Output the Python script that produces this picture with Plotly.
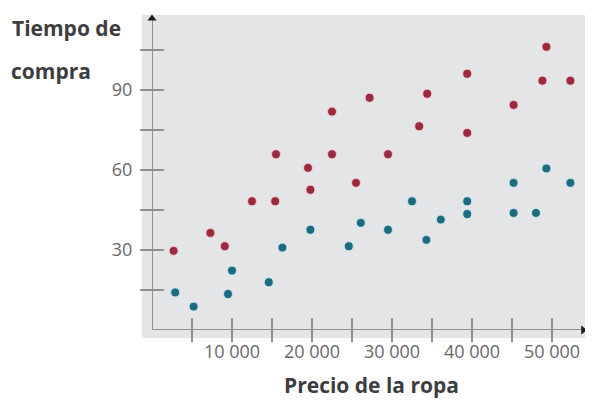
import plotly.graph_objects as go

# ---------------- data ----------------
red_x = [2700, 7300, 9100, 12500, 15400, 15500, 19500, 19800, 22500, 22500, 25500,
         27200, 29500, 33400, 34400, 39400, 39400, 45200, 48800, 49300, 52300]
red_y = [29.7, 36.4, 31.4, 48.3, 48.3, 65.9, 60.8, 52.6, 81.9, 65.9, 55.2,
         87.1, 65.9, 76.4, 88.6, 96.1, 73.9, 84.4, 93.5, 106.2, 93.5]

teal_x = [2900, 5200, 9500, 10000, 14600, 16300, 19800, 24600, 26100, 29500, 32500,
          34300, 36100, 39400, 39400, 45200, 45200, 48000, 49300, 52300]
teal_y = [14.1, 8.8, 13.5, 22.3, 17.9, 30.9, 37.6, 31.4, 40.2, 37.6, 48.3,
          33.8, 41.4, 48.3, 43.5, 55.2, 43.9, 43.9, 60.6, 55.2]

x_tick_vals = [5000, 10000, 15000, 20000, 25000, 30000, 35000, 40000, 45000, 50000]
x_label_vals = [10000, 20000, 30000, 40000, 50000]
x_labels = ["10 000", "20 000", "30 000", "40 000", "50 000"]
y_tick_vals = [15, 30, 45, 60, 75, 90, 105]
y_label_vals = [30, 60, 90]
y_labels = ["30", "60", "90"]

y_title_lines = ["Tiempo de", "compra"]
x_title = "Precio de la ropa"

x_end = 53900   # arrow tip of horizontal axis
y_end = 116.8   # arrow tip of vertical axis

# ---------------- geometry ----------------
OFF = 8                      # default page margin around the plot div
W, H = 593 - OFF, 400 - OFF
ML, MR, MT, MB = 152 - OFF, 0, 15 - OFF, 400 - 330
PW = W - ML - MR
PH = H - MT - MB


def px(xp):
    # window pixel x -> paper x
    return (xp - OFF - ML) / PW


def py(yp):
    # window pixel y -> paper y
    return (H - MB - (yp - OFF)) / PH


BG = "#e4e5e7"
AX = "#8e8f91"
RED = "#9a2a40"
TEAL = "#1f6b7e"
TXT = "#3d3d40"
TICKTXT = "#68686a"

fig = go.Figure()

# tick marks crossing the axes
fig.add_trace(go.Scatter(
    x=x_tick_vals, y=[0] * len(x_tick_vals), mode="markers",
    marker=dict(symbol="line-ns-open", size=17, color=AX, line=dict(color=AX, width=2)),
    cliponaxis=False, hoverinfo="skip", showlegend=False))
fig.add_trace(go.Scatter(
    x=[0] * len(y_tick_vals), y=y_tick_vals, mode="markers",
    marker=dict(symbol="line-ew-open", size=17, color=AX, line=dict(color=AX, width=2)),
    cliponaxis=False, hoverinfo="skip", showlegend=False))

# arrow heads
fig.add_trace(go.Scatter(
    x=[x_end], y=[0], mode="markers",
    marker=dict(symbol="triangle-right", size=8, color="#1e1e1e"),
    cliponaxis=False, hoverinfo="skip", showlegend=False))
fig.add_trace(go.Scatter(
    x=[0], y=[y_end], mode="markers",
    marker=dict(symbol="triangle-up", size=8, color="#1e1e1e"),
    cliponaxis=False, hoverinfo="skip", showlegend=False))

# data series
fig.add_trace(go.Scatter(
    x=red_x, y=red_y, mode="markers", showlegend=False,
    marker=dict(size=9, color=RED, line=dict(color="rgba(248,205,212,0.8)", width=1.2)),
    cliponaxis=False))
fig.add_trace(go.Scatter(
    x=teal_x, y=teal_y, mode="markers", showlegend=False,
    marker=dict(size=9, color=TEAL, line=dict(color="rgba(200,232,242,0.8)", width=1.2)),
    cliponaxis=False))

shapes = [
    dict(type="rect", xref="paper", yref="paper", x0=px(142), x1=px(593), y0=py(338), y1=py(15),
         fillcolor=BG, line=dict(width=0), layer="below"),
    dict(type="line", xref="x", yref="y", x0=0, y0=0, x1=x_end, y1=0,
         line=dict(color=AX, width=2), layer="below"),
    dict(type="line", xref="x", yref="y", x0=0, y0=0, x1=0, y1=y_end,
         line=dict(color=AX, width=2), layer="below"),
]

TFONT = dict(family="Open Sans", size=21, color=TXT, weight="bold")
annotations = [
    dict(text=y_title_lines[0], xref="paper", yref="paper", x=px(10), y=py(28),
         xanchor="left", yanchor="middle", showarrow=False, font=TFONT),
    dict(text=y_title_lines[1], xref="paper", yref="paper", x=px(9), y=py(71),
         xanchor="left", yanchor="middle", showarrow=False, font=TFONT),
    dict(text=x_title, xref="paper", yref="paper", x=px(371), y=py(385),
         xanchor="center", yanchor="middle", showarrow=False, font=TFONT),
]

fig.update_layout(
    width=W, height=H,
    margin=dict(l=ML, r=MR, t=MT, b=MB, pad=0, autoexpand=False),
    paper_bgcolor="white", plot_bgcolor=BG,
    shapes=shapes, annotations=annotations,
    xaxis=dict(range=[0, PW / 8 * 1000], tickvals=x_label_vals, ticktext=x_labels,
               showgrid=False, zeroline=False, showline=False,
               ticks="outside", ticklen=5, tickcolor="rgba(0,0,0,0)",
               automargin=False,
               tickfont=dict(family="Open Sans", size=18, color=TICKTXT)),
    yaxis=dict(range=[0, PH / (80 / 30)], tickvals=y_label_vals, ticktext=y_labels,
               showgrid=False, zeroline=False, showline=False,
               ticks="outside", ticklen=15, tickcolor="rgba(0,0,0,0)",
               automargin=False,
               tickfont=dict(family="Open Sans", size=18, color=TICKTXT)),
)

fig.write_html("out.html")
